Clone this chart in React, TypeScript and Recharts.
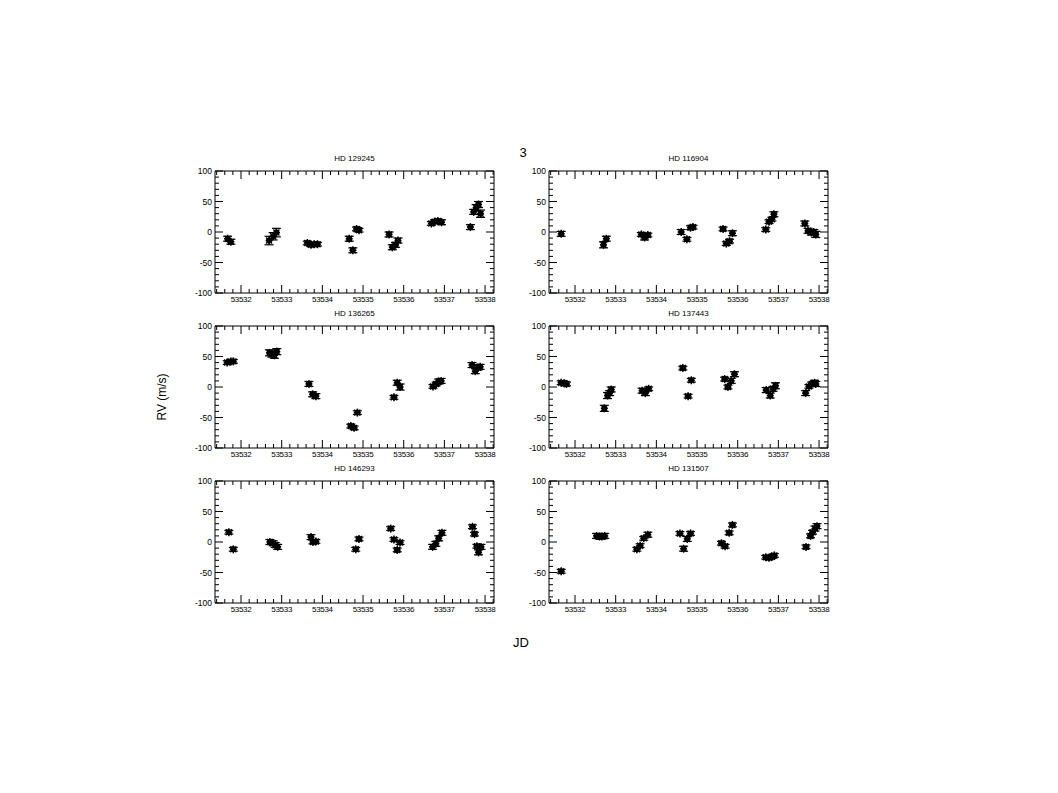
import React from 'react';
import { ScatterChart, Scatter, XAxis, YAxis, ErrorBar } from 'recharts';

// x range and ticks shared by every panel
const JD_MIN = 53531.36;
const JD_MAX = 53538.22;
const jdMajorTicks = [53532, 53533, 53534, 53535, 53536, 53537, 53538];
const rvMajorTicks = [-100, -50, 0, 50, 100];

// HD 129245
const hd129245Jd = [53531.67, 53531.75, 53532.69, 53532.79, 53532.87, 53533.63, 53533.72, 53533.80, 53533.88, 53534.66, 53534.75, 53534.84, 53534.90, 53535.64, 53535.72, 53535.80, 53535.86, 53536.68, 53536.76, 53536.84, 53536.93, 53537.64, 53537.72, 53537.78, 53537.84, 53537.89];
const hd129245Rv = [-11, -16, -14, -7, -1, -18, -21, -20, -20, -11, -30, 5, 3, -4, -25, -21, -14, 14, 17, 18, 16, 8, 33, 40, 45, 30];
const hd129245Err = [4, 4, 7, 6, 7, 3, 3, 3, 3, 4, 4, 3, 3, 4, 4, 4, 4, 3, 3, 3, 4, 4, 4, 5, 5, 6];

// HD 116904
const hd116904Jd = [53531.66, 53532.70, 53532.77, 53533.63, 53533.71, 53533.79, 53534.61, 53534.75, 53534.84, 53534.90, 53535.64, 53535.72, 53535.80, 53535.87, 53536.69, 53536.77, 53536.84, 53536.89, 53537.65, 53537.73, 53537.81, 53537.87, 53537.92];
const hd116904Rv = [-3, -21, -11, -4, -9, -5, 0, -12, 7, 8, 5, -19, -15, -2, 4, 17, 21, 29, 14, 2, -1, 0, -4];
const hd116904Err = [4, 5, 4, 3, 4, 3, 4, 3, 3, 3, 3, 3, 3, 4, 3, 3, 3, 4, 4, 4, 4, 4, 5];

// HD 136265
const hd136265Jd = [53531.66, 53531.75, 53531.81, 53532.70, 53532.76, 53532.82, 53532.88, 53533.67, 53533.76, 53533.84, 53534.70, 53534.78, 53534.86, 53535.76, 53535.84, 53535.91, 53536.72, 53536.80, 53536.86, 53536.92, 53537.68, 53537.76, 53537.83, 53537.88];
const hd136265Rv = [40, 42, 42, 56, 54, 52, 58, 5, -12, -15, -64, -67, -42, -17, 7, 0, 1, 5, 9, 10, 36, 26, 32, 33];
const hd136265Err = [3, 3, 3, 5, 5, 5, 5, 4, 4, 4, 3, 3, 3, 3, 4, 5, 3, 3, 4, 4, 4, 4, 4, 4];

// HD 137443
const hd137443Jd = [53531.66, 53531.74, 53531.79, 53532.72, 53532.80, 53532.85, 53532.89, 53533.65, 53533.73, 53533.81, 53534.65, 53534.78, 53534.86, 53535.68, 53535.76, 53535.84, 53535.92, 53536.70, 53536.80, 53536.87, 53536.93, 53537.67, 53537.75, 53537.82, 53537.89, 53537.92];
const hd137443Rv = [7, 6, 5, -35, -14, -10, -4, -6, -10, -3, 31, -15, 11, 13, 0, 10, 21, -5, -14, -3, 2, -10, 1, 5, 7, 5];
const hd137443Err = [3, 3, 3, 5, 5, 4, 4, 4, 4, 3, 3, 3, 3, 3, 3, 4, 4, 4, 4, 4, 5, 4, 3, 3, 4, 4];

// HD 146293
const hd146293Jd = [53531.70, 53531.81, 53532.71, 53532.79, 53532.84, 53532.90, 53533.72, 53533.77, 53533.84, 53534.82, 53534.90, 53535.68, 53535.76, 53535.84, 53535.91, 53536.71, 53536.79, 53536.86, 53536.94, 53537.69, 53537.74, 53537.80, 53537.84, 53537.90];
const hd146293Rv = [16, -12, 0, -2, -5, -8, 8, 0, 1, -12, 5, 22, 4, -13, -1, -8, -3, 6, 15, 25, 13, -7, -17, -8];
const hd146293Err = [3, 3, 4, 4, 4, 4, 4, 3, 3, 3, 3, 3, 3, 3, 3, 4, 4, 4, 4, 3, 3, 3, 4, 4];

// HD 131507
const hd131507Jd = [53531.66, 53532.53, 53532.60, 53532.66, 53532.73, 53533.52, 53533.60, 53533.69, 53533.79, 53534.58, 53534.67, 53534.76, 53534.84, 53535.60, 53535.69, 53535.79, 53535.87, 53536.69, 53536.77, 53536.84, 53536.90, 53537.68, 53537.79, 53537.84, 53537.90, 53537.95];
const hd131507Rv = [-48, 10, 9, 9, 10, -12, -6, 6, 12, 14, -11, 5, 14, -2, -7, 15, 28, -25, -26, -24, -22, -8, 10, 16, 22, 26];
const hd131507Err = [3, 4, 4, 4, 4, 3, 3, 3, 4, 3, 4, 4, 3, 3, 3, 3, 3, 3, 3, 3, 3, 3, 3, 3, 4, 4];

const FONT = '"Liberation Sans", Arial, Helvetica, sans-serif';
const PLOT_W = 279;
const PLOT_H = 122;
const PAD_L = 35;
const PAD_T = 5;
const PAD_R = 5;
const AXIS_H = 15;

// minor ticks: 0.2 day on x, 10 m/s on y
const jdTicks: number[] = [];
for (let i = Math.ceil(JD_MIN * 5); i <= Math.floor(JD_MAX * 5); i++) jdTicks.push(i / 5);
const rvTicks: number[] = [];
for (let v = -100; v <= 100; v += 10) rvTicks.push(v);

const isMajorJd = (v: number) => jdMajorTicks.some((m) => Math.abs(m - v) < 1e-6);
const isMajorRv = (v: number) => rvMajorTicks.includes(v);

const BottomTick = (p: any) => {
  const v = p.payload.value;
  const major = isMajorJd(v);
  return (
    <g>
      <line x1={p.x} y1={p.y} x2={p.x} y2={p.y - (major ? 8 : 4)} stroke="#000" />
      {major && (
        <text x={p.x} y={p.y + 9} textAnchor="middle" fontSize={8} fontFamily={FONT} fill="#000" letterSpacing={-0.3}>
          {Math.round(v)}
        </text>
      )}
    </g>
  );
};

const TopTick = (p: any) => {
  const major = isMajorJd(p.payload.value);
  return <line x1={p.x} y1={p.y} x2={p.x} y2={p.y + (major ? 8 : 4)} stroke="#000" />;
};

const LeftTick = (p: any) => {
  const v = p.payload.value;
  const major = isMajorRv(v);
  return (
    <g>
      <line x1={p.x} y1={p.y} x2={p.x + (major ? 8 : 4)} y2={p.y} stroke="#000" />
      {major && (
        <text x={p.x - 3} y={p.y + 3} textAnchor="end" fontSize={8.5} fontFamily={FONT} fill="#000">
          {v}
        </text>
      )}
    </g>
  );
};

const RightTick = (p: any) => {
  const major = isMajorRv(p.payload.value);
  return <line x1={p.x} y1={p.y} x2={p.x - (major ? 8 : 4)} y2={p.y} stroke="#000" />;
};

const Marker = (p: any) => {
  const { cx, cy } = p;
  if (cx == null || cy == null) return null;
  return (
    <g>
      <circle cx={cx} cy={cy} r={3} fill="#000" />
      <line x1={cx - 3.5} y1={cy} x2={cx + 3.5} y2={cy} stroke="#000" strokeWidth={1.5} />
      <line x1={cx} y1={cy - 4} x2={cx} y2={cy + 4} stroke="#000" strokeWidth={1.5} />
      <line x1={cx - 3} y1={cy - 3} x2={cx + 3} y2={cy + 3} stroke="#000" strokeWidth={1.4} />
      <line x1={cx - 3} y1={cy + 3} x2={cx + 3} y2={cy - 3} stroke="#000" strokeWidth={1.4} />
    </g>
  );
};

type PanelProps = {
  title: string;
  jd: number[];
  rv: number[];
  err: number[];
  left: number;
  top: number;
};

const Panel = ({ title, jd, rv, err, left, top }: PanelProps) => {
  const data = jd.map((x, i) => ({ x, y: rv[i], e: err[i] }));
  return (
    <>
      <div
        style={{
          position: 'absolute',
          left,
          top: top - 17,
          width: PLOT_W,
          textAlign: 'center',
          fontFamily: FONT,
          fontSize: 8,
          lineHeight: '10px',
          color: '#000',
        }}
      >
        {title}
      </div>
      <div style={{ position: 'absolute', left: left - PAD_L, top: top - PAD_T }}>
        <ScatterChart
          width={PAD_L + PLOT_W + PAD_R}
          height={PAD_T + PLOT_H + AXIS_H}
          margin={{ top: PAD_T, right: PAD_R, bottom: 0, left: 0 }}
        >
          <XAxis
            xAxisId="b"
            type="number"
            dataKey="x"
            domain={[JD_MIN, JD_MAX]}
            allowDataOverflow
            ticks={jdTicks}
            interval={0}
            tick={<BottomTick />}
            tickSize={0}
            tickMargin={0}
            tickLine={false}
            height={AXIS_H}
            axisLine={{ stroke: '#000' }}
          />
          <XAxis
            xAxisId="t"
            orientation="top"
            mirror
            type="number"
            dataKey="x"
            domain={[JD_MIN, JD_MAX]}
            allowDataOverflow
            ticks={jdTicks}
            interval={0}
            tick={<TopTick />}
            tickSize={0}
            tickMargin={0}
            tickLine={false}
            height={1}
            axisLine={{ stroke: '#000' }}
          />
          <YAxis
            yAxisId="l"
            type="number"
            dataKey="y"
            domain={[-100, 100]}
            allowDataOverflow
            ticks={rvTicks}
            interval={0}
            tick={<LeftTick />}
            tickSize={0}
            tickMargin={0}
            tickLine={false}
            width={PAD_L}
            axisLine={{ stroke: '#000' }}
          />
          <YAxis
            yAxisId="r"
            orientation="right"
            mirror
            type="number"
            dataKey="y"
            domain={[-100, 100]}
            allowDataOverflow
            ticks={rvTicks}
            interval={0}
            tick={<RightTick />}
            tickSize={0}
            tickMargin={0}
            tickLine={false}
            width={1}
            axisLine={{ stroke: '#000' }}
          />
          <Scatter
            xAxisId="b"
            yAxisId="l"
            data={data}
            shape={<Marker />}
            isAnimationActive={false}
          >
            <ErrorBar dataKey="e" direction="y" width={4.5} stroke="#000" strokeWidth={1.2} />
          </Scatter>
        </ScatterChart>
      </div>
    </>
  );
};

const COL_X = [215, 549];
const ROW_Y = [171, 326, 481];

export default function App() {
  return (
    <div style={{ position: 'absolute', left: 0, top: 0, width: 1058, height: 793, background: '#fff' }}>
      <Panel title="HD 129245" jd={hd129245Jd} rv={hd129245Rv} err={hd129245Err} left={COL_X[0]} top={ROW_Y[0]} />
      <Panel title="HD 116904" jd={hd116904Jd} rv={hd116904Rv} err={hd116904Err} left={COL_X[1]} top={ROW_Y[0]} />
      <Panel title="HD 136265" jd={hd136265Jd} rv={hd136265Rv} err={hd136265Err} left={COL_X[0]} top={ROW_Y[1]} />
      <Panel title="HD 137443" jd={hd137443Jd} rv={hd137443Rv} err={hd137443Err} left={COL_X[1]} top={ROW_Y[1]} />
      <Panel title="HD 146293" jd={hd146293Jd} rv={hd146293Rv} err={hd146293Err} left={COL_X[0]} top={ROW_Y[2]} />
      <Panel title="HD 131507" jd={hd131507Jd} rv={hd131507Rv} err={hd131507Err} left={COL_X[1]} top={ROW_Y[2]} />
      <svg width={1058} height={793} style={{ position: 'absolute', left: 0, top: 0, pointerEvents: 'none' }}>
        <text x={523} y={157} textAnchor="middle" fontSize={13} fontFamily={FONT}>3</text>
        <text x={521} y={647} textAnchor="middle" fontSize={13} fontFamily={FONT}>JD</text>
        <text x={166} y={397} textAnchor="middle" fontSize={12} fontFamily={FONT} transform="rotate(-90 166 397)">
          RV (m/s)
        </text>
      </svg>
    </div>
  );
}
